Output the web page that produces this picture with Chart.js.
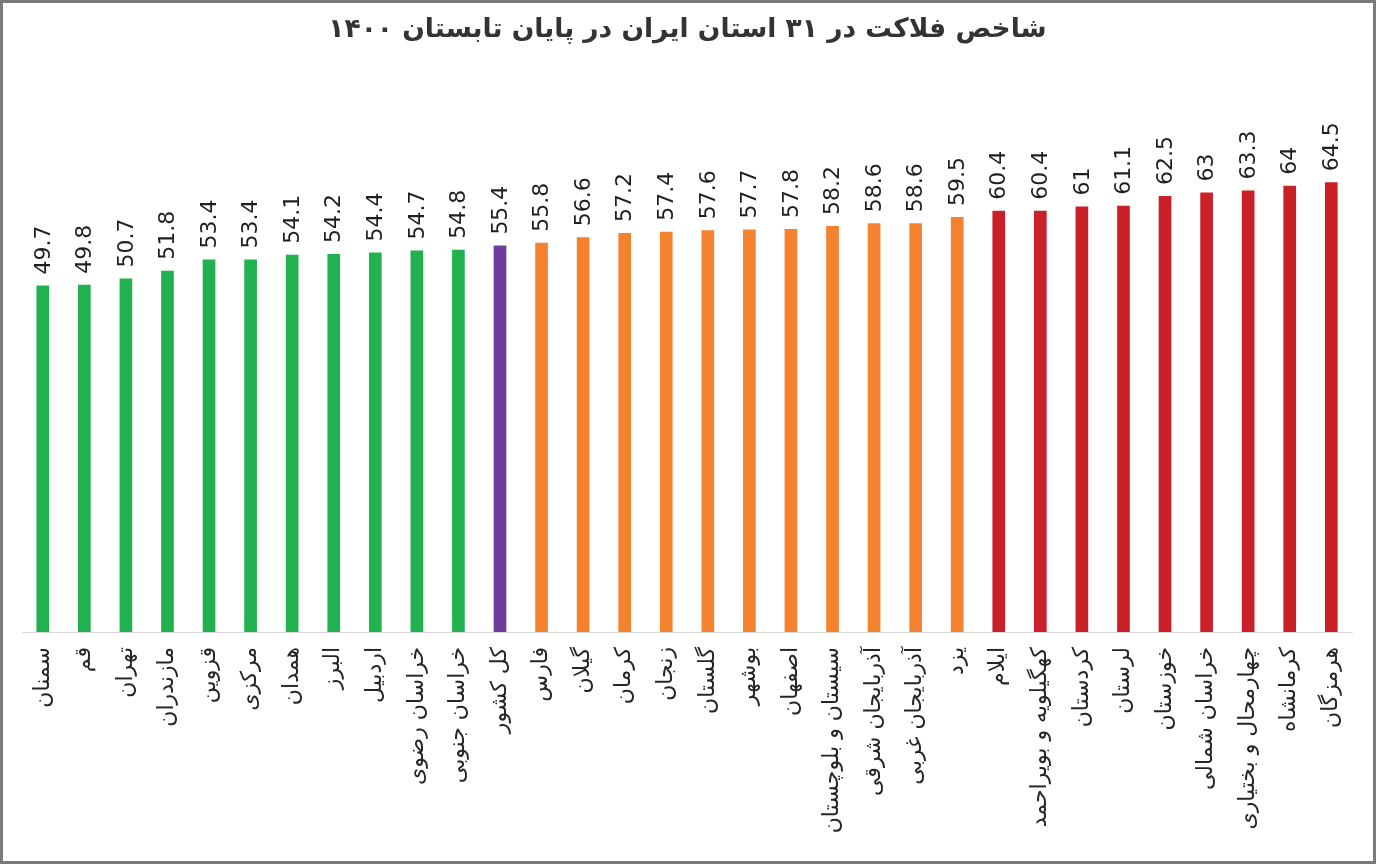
<!DOCTYPE html>
<html>
<head>
<meta charset="utf-8">
<script src="https://cdn.jsdelivr.net/npm/chart.js@4.4.0/dist/chart.umd.min.js"></script>
<style>
    body { margin: 0; background: #fff; }
    #wrap {
        width: 1376px;
        height: 864px;
        box-sizing: border-box;
        border: 3px solid #7b7b7b;
        background: #fff;
    }
</style>
</head>
<body>
<div id="wrap"><canvas id="barChart"></canvas></div>
<script>
const provinces = [
    'سمنان', 'قم', 'تهران', 'مازندران', 'قزوین', 'مرکزی', 'همدان', 'البرز',
    'اردبیل', 'خراسان رضوی', 'خراسان جنوبی', 'کل کشور', 'فارس', 'گیلان', 'کرمان',
    'زنجان', 'گلستان', 'بوشهر', 'اصفهان', 'سیستان و بلوچستان', 'آذربایجان شرقی',
    'آذربایجان غربی', 'یزد', 'ایلام', 'کهگیلویه و بویراحمد', 'کردستان', 'لرستان',
    'خوزستان', 'خراسان شمالی', 'چهارمحال و بختیاری', 'کرمانشاه', 'هرمزگان'
];
const miseryIndex = [
    49.7, 49.8, 50.7, 51.8, 53.4, 53.4, 54.1, 54.2, 54.4, 54.7, 54.8, 55.4,
    55.8, 56.6, 57.2, 57.4, 57.6, 57.7, 57.8, 58.2, 58.6, 58.6, 59.5, 60.4,
    60.4, 61, 61.1, 62.5, 63, 63.3, 64, 64.5
];
const nationalLabel = 'کل کشور';
const highThreshold = 60;

const nationalValue = miseryIndex[provinces.indexOf(nationalLabel)];

// green below country total, purple = total, orange above, red from 60 up
function barColor(i) {
    const v = miseryIndex[i];
    if (provinces[i] === nationalLabel) return '#6f3b9d';
    if (v < nationalValue) return '#22b14f';
    if (v < highThreshold) return '#f5822f';
    return '#ca2027';
}

const valueLabels = {
    id: 'valueLabels',
    afterDatasetsDraw(chart) {
        const ctx = chart.ctx;
        const meta = chart.getDatasetMeta(0);
        ctx.save();
        ctx.font = '22px "DejaVu Sans", sans-serif';
        ctx.fillStyle = '#1f1f1f';
        ctx.textAlign = 'left';
        ctx.textBaseline = 'middle';
        meta.data.forEach((bar, i) => {
            ctx.save();
            ctx.translate(bar.x + 1, bar.y - 11);
            ctx.rotate(-Math.PI / 2);
            ctx.fillText(String(miseryIndex[i]), 0, 0);
            ctx.restore();
        });
        ctx.restore();
    }
};

const ctx = document.getElementById('barChart').getContext('2d');
const chart = new Chart(ctx, {
    type: 'bar',
    data: {
        labels: provinces,
        datasets: [{
            label: 'شاخص فلاکت',
            data: miseryIndex,
            backgroundColor: miseryIndex.map((v, i) => barColor(i)),
            barPercentage: 0.305,
            categoryPercentage: 1
        }]
    },
    plugins: [valueLabels],
    options: {
        responsive: true,
        maintainAspectRatio: false,
        animation: false,
        layout: {
            padding: { left: 19, right: 20, top: 0, bottom: 0 }
        },
        plugins: {
            legend: { display: false },
            tooltip: { enabled: false },
            title: {
                display: true,
                text: 'شاخص فلاکت در ۳۱ استان ایران در پایان تابستان ۱۴۰۰',
                color: '#333333',
                font: { family: '"DejaVu Sans", sans-serif', size: 26.5, weight: 'bold', lineHeight: 1.2 },
                padding: { top: 11, bottom: 98 }
            }
        },
        scales: {
            x: {
                grid: { display: false, drawTicks: false },
                border: { display: true, color: '#d9d9d9', width: 1 },
                ticks: {
                    autoSkip: false,
                    minRotation: 90,
                    maxRotation: 90,
                    padding: 15,
                    color: '#262626',
                    font: { family: '"DejaVu Sans", sans-serif', size: 22 }
                },
                afterFit(scale) {
                    scale.height = 229;
                }
            },
            y: {
                display: false,
                min: 0,
                max: 70
            }
        }
    }
});
</script>
</body>
</html>
